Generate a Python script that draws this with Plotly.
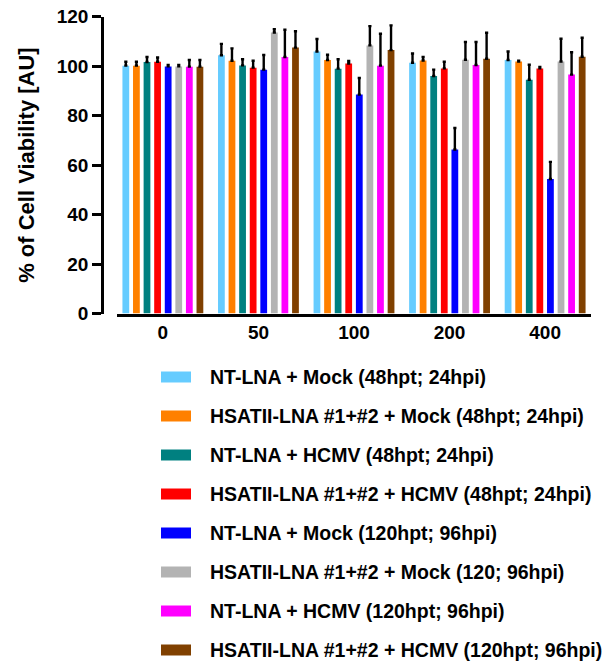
import plotly.graph_objects as go

W, H = 610, 664

categories = ["0", "50", "100", "200", "400"]

series_names = [
    "NT-LNA + Mock (48hpt; 24hpi)",
    "HSATII-LNA #1+#2 + Mock (48hpt; 24hpi)",
    "NT-LNA + HCMV (48hpt; 24hpi)",
    "HSATII-LNA #1+#2 + HCMV (48hpt; 24hpi)",
    "NT-LNA + Mock (120hpt; 96hpi)",
    "HSATII-LNA #1+#2 + Mock (120; 96hpi)",
    "NT-LNA + HCMV (120hpt; 96hpi)",
    "HSATII-LNA #1+#2 + HCMV (120hpt; 96hpi)",
]
series_colors = ["#66CCFF", "#FF8000", "#008080", "#FF0000",
                 "#0000FF", "#B3B3B3", "#FF00FF", "#804000"]

# mean values per series, across categories 0, 50, 100, 200, 400
nt_mock_48 = [100.2, 104.4, 105.9, 101.4, 102.5]
hs_mock_48 = [100.2, 102.2, 102.5, 102.3, 101.9]
nt_hcmv_48 = [101.7, 100.3, 99.0, 96.0, 94.5]
hs_hcmv_48 = [101.8, 99.4, 101.1, 99.1, 99.1]
nt_mock_120 = [99.9, 98.6, 88.5, 66.3, 54.4]
hs_mock_120 = [99.9, 113.6, 108.4, 102.6, 101.9]
nt_hcmv_120 = [99.8, 103.7, 100.2, 100.5, 96.6]
hs_hcmv_120 = [99.8, 107.5, 106.5, 103.0, 103.8]

# upper error (SD) per series
err_nt_mock_48 = [1.6, 4.6, 5.1, 3.7, 3.4]
err_hs_mock_48 = [1.6, 5.0, 2.1, 1.4, 0.3]
err_nt_hcmv_48 = [2.0, 2.5, 3.8, 2.6, 6.1]
err_hs_hcmv_48 = [1.7, 2.8, 1.0, 2.7, 0.6]
err_nt_mock_120 = [0.6, 5.9, 6.7, 8.7, 6.9]
err_hs_mock_120 = [0.6, 1.3, 7.8, 7.2, 9.2]
err_nt_hcmv_120 = [2.7, 11.0, 12.9, 9.3, 9.0]
err_hs_hcmv_120 = [2.7, 6.6, 10.0, 10.5, 7.7]

values = [nt_mock_48, hs_mock_48, nt_hcmv_48, hs_hcmv_48,
          nt_mock_120, hs_mock_120, nt_hcmv_120, hs_hcmv_120]
errors = [err_nt_mock_48, err_hs_mock_48, err_nt_hcmv_48, err_hs_hcmv_48,
          err_nt_mock_120, err_hs_mock_120, err_nt_hcmv_120, err_hs_hcmv_120]

y_ticks = [0, 20, 40, 60, 80, 100, 120]

FONT = "Liberation Sans, Arial, sans-serif"

fig = go.Figure()
for name, color, vals, errs in zip(series_names, series_colors, values, errors):
    fig.add_trace(go.Bar(
        x=categories, y=vals, name=name,
        marker=dict(color=color, line=dict(width=0)),
        error_y=dict(type="data", array=errs, arrayminus=[0] * len(errs),
                     symmetric=False, color="black", thickness=2.4, width=1.6),
        showlegend=False,
    ))

def px_x(p):
    return p / W

def px_y(p):
    return 1 - p / H

# manual legend built from the series lists
shapes = []
annotations = []
row0 = 377
row_step = 39
for i, (name, color) in enumerate(zip(series_names, series_colors)):
    cy = row0 + i * row_step
    shapes.append(dict(type="rect", xref="paper", yref="paper",
                       x0=px_x(161), x1=px_x(191), y0=px_y(cy + 5.5), y1=px_y(cy - 5.5),
                       fillcolor=color, line=dict(width=0)))
    annotations.append(dict(xref="paper", yref="paper", x=px_x(208), y=px_y(cy),
                            xanchor="left", yanchor="middle", text=name, showarrow=False,
                            font=dict(family=FONT, size=19.5, color="black", weight="bold")))

fig.update_layout(
    width=W, height=H,
    margin=dict(l=0, r=0, t=0, b=0),
    paper_bgcolor="white", plot_bgcolor="white",
    barmode="group", bargap=0.114, bargroupgap=0.36,
    font=dict(family=FONT, color="black"),
    shapes=shapes,
    annotations=annotations,
    xaxis=dict(
        domain=[px_x(117), px_x(591)],
        type="category", range=[-0.48, 4.48],
        showline=True, linecolor="black", linewidth=3,
        ticks="", showgrid=False, zeroline=False,
        tickfont=dict(family=FONT, size=19, color="black", weight="bold"),
        ticklabelstandoff=0,
        automargin=False,
    ),
    yaxis=dict(
        domain=[px_y(313.5), px_y(16.7)],
        anchor="free", position=px_x(102),
        range=[0, 120], tickvals=y_ticks,
        showline=True, linecolor="black", linewidth=2.5,
        ticks="outside", ticklen=9, tickwidth=2.5, tickcolor="black",
        showgrid=False, zeroline=False,
        tickfont=dict(family=FONT, size=19, color="black", weight="bold"),
        title=dict(text="% of Cell Viability [AU]", standoff=15,
                   font=dict(family=FONT, size=22, color="black", weight="bold")),
        automargin=False,
    ),
)

fig.write_html("out.html")
